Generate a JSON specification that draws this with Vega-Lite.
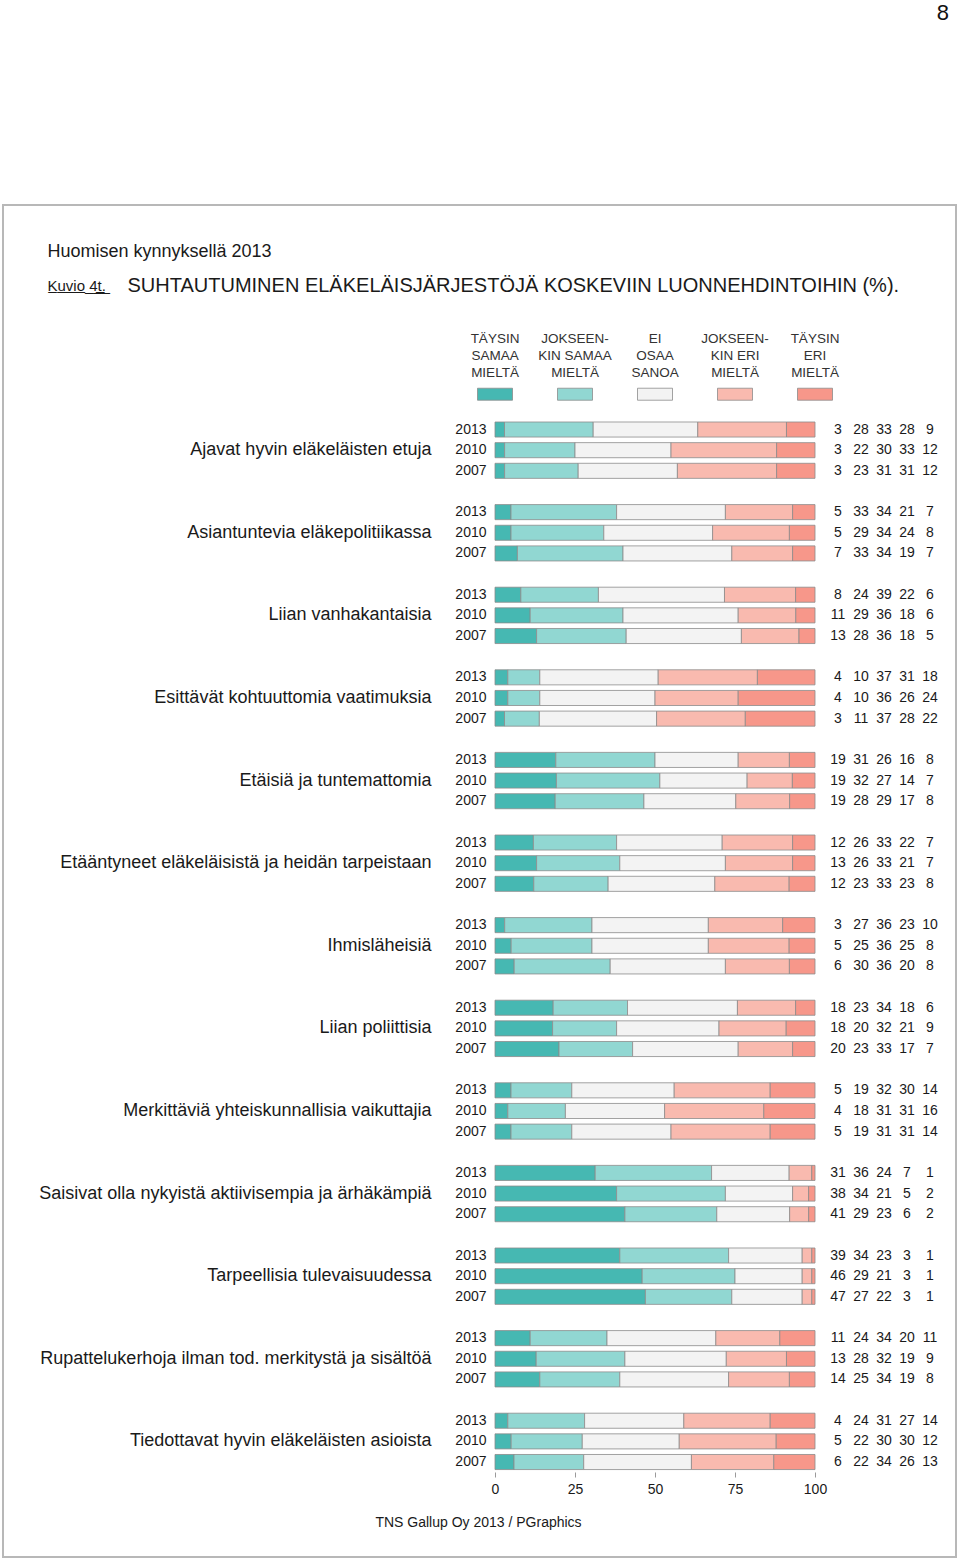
{
  "$schema": "https://vega.github.io/schema/vega-lite/v6.json",
  "width": 953,
  "height": 1352,
  "autosize": {"type": "none"},
  "padding": {"left": 3, "top": 205, "right": 4, "bottom": 2},
  "background": "white",
  "config": {
    "font": "Liberation Sans",
    "view": {"stroke": "#b8b8b8", "strokeWidth": 2},
    "axis": {"grid": false, "titleFontWeight": "normal", "labelColor": "#1a1a1a", "titleColor": "#1a1a1a"}
  },
  "title": {"text": "8", "anchor": "end", "frame": "group", "fontSize": 22, "fontWeight": "normal", "color": "#111111", "baseline": "middle", "offset": 170, "dx": -7},
  "datasets": {
    "survey": [
      {"item": "Ajavat hyvin eläkeläisten etuja", "year": "2013", "ts": 3, "js": 28, "eos": 33, "je": 28, "te": 9},
      {"item": "Ajavat hyvin eläkeläisten etuja", "year": "2010", "ts": 3, "js": 22, "eos": 30, "je": 33, "te": 12},
      {"item": "Ajavat hyvin eläkeläisten etuja", "year": "2007", "ts": 3, "js": 23, "eos": 31, "je": 31, "te": 12},
      {"item": "Asiantuntevia eläkepolitiikassa", "year": "2013", "ts": 5, "js": 33, "eos": 34, "je": 21, "te": 7},
      {"item": "Asiantuntevia eläkepolitiikassa", "year": "2010", "ts": 5, "js": 29, "eos": 34, "je": 24, "te": 8},
      {"item": "Asiantuntevia eläkepolitiikassa", "year": "2007", "ts": 7, "js": 33, "eos": 34, "je": 19, "te": 7},
      {"item": "Liian vanhakantaisia", "year": "2013", "ts": 8, "js": 24, "eos": 39, "je": 22, "te": 6},
      {"item": "Liian vanhakantaisia", "year": "2010", "ts": 11, "js": 29, "eos": 36, "je": 18, "te": 6},
      {"item": "Liian vanhakantaisia", "year": "2007", "ts": 13, "js": 28, "eos": 36, "je": 18, "te": 5},
      {"item": "Esittävät kohtuuttomia vaatimuksia", "year": "2013", "ts": 4, "js": 10, "eos": 37, "je": 31, "te": 18},
      {"item": "Esittävät kohtuuttomia vaatimuksia", "year": "2010", "ts": 4, "js": 10, "eos": 36, "je": 26, "te": 24},
      {"item": "Esittävät kohtuuttomia vaatimuksia", "year": "2007", "ts": 3, "js": 11, "eos": 37, "je": 28, "te": 22},
      {"item": "Etäisiä ja tuntemattomia", "year": "2013", "ts": 19, "js": 31, "eos": 26, "je": 16, "te": 8},
      {"item": "Etäisiä ja tuntemattomia", "year": "2010", "ts": 19, "js": 32, "eos": 27, "je": 14, "te": 7},
      {"item": "Etäisiä ja tuntemattomia", "year": "2007", "ts": 19, "js": 28, "eos": 29, "je": 17, "te": 8},
      {"item": "Etääntyneet eläkeläisistä ja heidän tarpeistaan", "year": "2013", "ts": 12, "js": 26, "eos": 33, "je": 22, "te": 7},
      {"item": "Etääntyneet eläkeläisistä ja heidän tarpeistaan", "year": "2010", "ts": 13, "js": 26, "eos": 33, "je": 21, "te": 7},
      {"item": "Etääntyneet eläkeläisistä ja heidän tarpeistaan", "year": "2007", "ts": 12, "js": 23, "eos": 33, "je": 23, "te": 8},
      {"item": "Ihmisläheisiä", "year": "2013", "ts": 3, "js": 27, "eos": 36, "je": 23, "te": 10},
      {"item": "Ihmisläheisiä", "year": "2010", "ts": 5, "js": 25, "eos": 36, "je": 25, "te": 8},
      {"item": "Ihmisläheisiä", "year": "2007", "ts": 6, "js": 30, "eos": 36, "je": 20, "te": 8},
      {"item": "Liian poliittisia", "year": "2013", "ts": 18, "js": 23, "eos": 34, "je": 18, "te": 6},
      {"item": "Liian poliittisia", "year": "2010", "ts": 18, "js": 20, "eos": 32, "je": 21, "te": 9},
      {"item": "Liian poliittisia", "year": "2007", "ts": 20, "js": 23, "eos": 33, "je": 17, "te": 7},
      {"item": "Merkittäviä yhteiskunnallisia vaikuttajia", "year": "2013", "ts": 5, "js": 19, "eos": 32, "je": 30, "te": 14},
      {"item": "Merkittäviä yhteiskunnallisia vaikuttajia", "year": "2010", "ts": 4, "js": 18, "eos": 31, "je": 31, "te": 16},
      {"item": "Merkittäviä yhteiskunnallisia vaikuttajia", "year": "2007", "ts": 5, "js": 19, "eos": 31, "je": 31, "te": 14},
      {"item": "Saisivat olla nykyistä aktiivisempia ja ärhäkämpiä", "year": "2013", "ts": 31, "js": 36, "eos": 24, "je": 7, "te": 1},
      {"item": "Saisivat olla nykyistä aktiivisempia ja ärhäkämpiä", "year": "2010", "ts": 38, "js": 34, "eos": 21, "je": 5, "te": 2},
      {"item": "Saisivat olla nykyistä aktiivisempia ja ärhäkämpiä", "year": "2007", "ts": 41, "js": 29, "eos": 23, "je": 6, "te": 2},
      {"item": "Tarpeellisia tulevaisuudessa", "year": "2013", "ts": 39, "js": 34, "eos": 23, "je": 3, "te": 1},
      {"item": "Tarpeellisia tulevaisuudessa", "year": "2010", "ts": 46, "js": 29, "eos": 21, "je": 3, "te": 1},
      {"item": "Tarpeellisia tulevaisuudessa", "year": "2007", "ts": 47, "js": 27, "eos": 22, "je": 3, "te": 1},
      {"item": "Rupattelukerhoja ilman tod. merkitystä ja sisältöä", "year": "2013", "ts": 11, "js": 24, "eos": 34, "je": 20, "te": 11},
      {"item": "Rupattelukerhoja ilman tod. merkitystä ja sisältöä", "year": "2010", "ts": 13, "js": 28, "eos": 32, "je": 19, "te": 9},
      {"item": "Rupattelukerhoja ilman tod. merkitystä ja sisältöä", "year": "2007", "ts": 14, "js": 25, "eos": 34, "je": 19, "te": 8},
      {"item": "Tiedottavat hyvin eläkeläisten asioista", "year": "2013", "ts": 4, "js": 24, "eos": 31, "je": 27, "te": 14},
      {"item": "Tiedottavat hyvin eläkeläisten asioista", "year": "2010", "ts": 5, "js": 22, "eos": 30, "je": 30, "te": 12},
      {"item": "Tiedottavat hyvin eläkeläisten asioista", "year": "2007", "ts": 6, "js": 22, "eos": 34, "je": 26, "te": 13}
    ],
    "legend": [
      {"cat": "ts", "label": "TÄYSIN\nSAMAA\nMIELTÄ"},
      {"cat": "js", "label": "JOKSEEN-\nKIN SAMAA\nMIELTÄ"},
      {"cat": "eos", "label": "EI\nOSAA\nSANOA"},
      {"cat": "je", "label": "JOKSEEN-\nKIN ERI\nMIELTÄ"},
      {"cat": "te", "label": "TÄYSIN\nERI\nMIELTÄ"}
    ]
  },
  "layer": [
    {
      "data": {"name": "survey"},
      "transform": [
        {"fold": ["ts", "js", "eos", "je", "te"], "as": ["cat", "value"]},
        {"calculate": "datum.item + '|' + datum.year", "as": "slot"},
        {"calculate": "indexof(['ts','js','eos','je','te'], datum.cat)", "as": "ord"}
      ],
      "mark": {"type": "bar", "stroke": "#8c8c8c", "strokeWidth": 0.8},
      "encoding": {
        "x": {
          "field": "value", "type": "quantitative", "stack": "normalize",
          "scale": {"domain": [0, 1], "range": [492, 812], "nice": false},
          "axis": {
            "orient": "bottom", "offset": -85, "values": [0, 0.25, 0.5, 0.75, 1],
            "labelExpr": "format(datum.value * 100, 'd')", "labelFlush": false,
            "domain": false, "ticks": true, "tickSize": 5, "tickColor": "#9a9a9a",
            "labelPadding": 5, "labelFontSize": 14,
            "title": "TNS Gallup Oy 2013 / PGraphics", "titleFontSize": 14,
            "titleX": 475, "titleY": 50, "titleAlign": "center", "titleBaseline": "middle"
          }
        },
        "y": {
          "field": "slot", "type": "nominal",
          "scale": {
            "type": "band", "range": [172.9, 1267.35], "paddingInner": 0.27, "paddingOuter": 0.135,
            "domain": [
              "L|1", "L|2",
              "Ajavat hyvin eläkeläisten etuja|2013", "Ajavat hyvin eläkeläisten etuja|2010", "Ajavat hyvin eläkeläisten etuja|2007", "Ajavat hyvin eläkeläisten etuja|-",
              "Asiantuntevia eläkepolitiikassa|2013", "Asiantuntevia eläkepolitiikassa|2010", "Asiantuntevia eläkepolitiikassa|2007", "Asiantuntevia eläkepolitiikassa|-",
              "Liian vanhakantaisia|2013", "Liian vanhakantaisia|2010", "Liian vanhakantaisia|2007", "Liian vanhakantaisia|-",
              "Esittävät kohtuuttomia vaatimuksia|2013", "Esittävät kohtuuttomia vaatimuksia|2010", "Esittävät kohtuuttomia vaatimuksia|2007", "Esittävät kohtuuttomia vaatimuksia|-",
              "Etäisiä ja tuntemattomia|2013", "Etäisiä ja tuntemattomia|2010", "Etäisiä ja tuntemattomia|2007", "Etäisiä ja tuntemattomia|-",
              "Etääntyneet eläkeläisistä ja heidän tarpeistaan|2013", "Etääntyneet eläkeläisistä ja heidän tarpeistaan|2010", "Etääntyneet eläkeläisistä ja heidän tarpeistaan|2007", "Etääntyneet eläkeläisistä ja heidän tarpeistaan|-",
              "Ihmisläheisiä|2013", "Ihmisläheisiä|2010", "Ihmisläheisiä|2007", "Ihmisläheisiä|-",
              "Liian poliittisia|2013", "Liian poliittisia|2010", "Liian poliittisia|2007", "Liian poliittisia|-",
              "Merkittäviä yhteiskunnallisia vaikuttajia|2013", "Merkittäviä yhteiskunnallisia vaikuttajia|2010", "Merkittäviä yhteiskunnallisia vaikuttajia|2007", "Merkittäviä yhteiskunnallisia vaikuttajia|-",
              "Saisivat olla nykyistä aktiivisempia ja ärhäkämpiä|2013", "Saisivat olla nykyistä aktiivisempia ja ärhäkämpiä|2010", "Saisivat olla nykyistä aktiivisempia ja ärhäkämpiä|2007", "Saisivat olla nykyistä aktiivisempia ja ärhäkämpiä|-",
              "Tarpeellisia tulevaisuudessa|2013", "Tarpeellisia tulevaisuudessa|2010", "Tarpeellisia tulevaisuudessa|2007", "Tarpeellisia tulevaisuudessa|-",
              "Rupattelukerhoja ilman tod. merkitystä ja sisältöä|2013", "Rupattelukerhoja ilman tod. merkitystä ja sisältöä|2010", "Rupattelukerhoja ilman tod. merkitystä ja sisältöä|2007", "Rupattelukerhoja ilman tod. merkitystä ja sisältöä|-",
              "Tiedottavat hyvin eläkeläisten asioista|2013", "Tiedottavat hyvin eläkeläisten asioista|2010", "Tiedottavat hyvin eläkeläisten asioista|2007"
            ]
          },
          "axis": {
            "orient": "left", "offset": -483, "domain": false, "ticks": false, "labelPadding": 0,
            "labelFontSize": 14, "labelOverlap": false, "labelBound": false, "title": null,
            "labelExpr": "indexof(['2013','2010','2007'], split(datum.value,'|')[1]) >= 0 ? split(datum.value,'|')[1] : ''"
          }
        },
        "color": {
          "field": "cat", "type": "nominal",
          "scale": {"domain": ["ts", "js", "eos", "je", "te"], "range": ["#46b8b2", "#91d7d2", "#f3f3f3", "#f9baaf", "#f7978a"]},
          "legend": null
        },
        "order": {"field": "ord", "type": "quantitative"}
      }
    },
    {
      "data": {"name": "survey"},
      "transform": [
        {"fold": ["ts", "js", "eos", "je", "te"], "as": ["cat", "value"]},
        {"calculate": "datum.item + '|' + datum.year", "as": "slot"}
      ],
      "mark": {"type": "text", "fontSize": 14, "color": "#1a1a1a", "align": "center", "baseline": "middle"},
      "encoding": {
        "x": {
          "field": "cat", "type": "nominal",
          "scale": {"type": "point", "domain": ["ts", "js", "eos", "je", "te"], "range": [835, 927], "padding": 0},
          "axis": {
            "orient": "top", "labels": false, "ticks": false, "domain": false,
            "title": "SUHTAUTUMINEN ELÄKELÄISJÄRJESTÖJÄ KOSKEVIIN LUONNEHDINTOIHIN (%).",
            "titleFontSize": 20, "titleX": 124, "titleY": 80, "titleAlign": "left", "titleBaseline": "middle"
          }
        },
        "y": {
          "field": "slot", "type": "nominal",
          "axis": {
            "orient": "left", "offset": -428, "domain": false, "ticks": false, "labelPadding": 0,
            "labelFontSize": 18, "labelLimit": 600, "labelOverlap": false, "labelBound": false, "title": null,
            "labelExpr": "split(datum.value,'|')[1] == '2010' ? split(datum.value,'|')[0] : ''"
          }
        },
        "text": {"field": "value", "type": "quantitative"}
      }
    },
    {
      "data": {"name": "legend"},
      "mark": {"type": "point", "shape": "M-1,0H1V0.686H-1Z", "size": 1225, "filled": true, "opacity": 1, "stroke": "#8c8c8c", "strokeWidth": 0.8},
      "encoding": {
        "x": {
          "field": "cat", "type": "nominal",
          "scale": {"type": "point", "domain": ["ts", "js", "eos", "je", "te"], "range": [492, 812], "padding": 0},
          "axis": {
            "orient": "top", "labels": false, "ticks": false, "domain": false,
            "title": "Huomisen kynnyksellä 2013",
            "titleFontSize": 18, "titleX": 44, "titleY": 46, "titleAlign": "left", "titleBaseline": "middle"
          }
        },
        "y": {"datum": "L|1", "type": "nominal", "axis": null},
        "color": {"field": "cat", "type": "nominal", "legend": null}
      }
    },
    {
      "data": {"name": "legend"},
      "mark": {"type": "text", "fontSize": 13.5, "lineHeight": 17, "lineBreak": "\n", "align": "center", "baseline": "bottom", "dy": -42, "color": "#333333"},
      "encoding": {
        "x": {
          "field": "cat", "type": "nominal",
          "scale": {"type": "point", "domain": ["ts", "js", "eos", "je", "te"], "range": [492, 812], "padding": 0},
          "axis": {
            "orient": "top", "labels": false, "ticks": false, "domain": false,
            "title": "K̲u̲v̲i̲o̲ ̲4̲t̲.̲",
            "titleFontSize": 15, "titleX": 44, "titleY": 80, "titleAlign": "left", "titleBaseline": "middle"
          }
        },
        "y": {"datum": "L|1", "type": "nominal", "axis": null},
        "text": {"field": "label", "type": "nominal"}
      }
    }
  ],
  "resolve": {
    "scale": {"x": "independent"},
    "axis": {"x": "independent", "y": "independent"}
  }
}
